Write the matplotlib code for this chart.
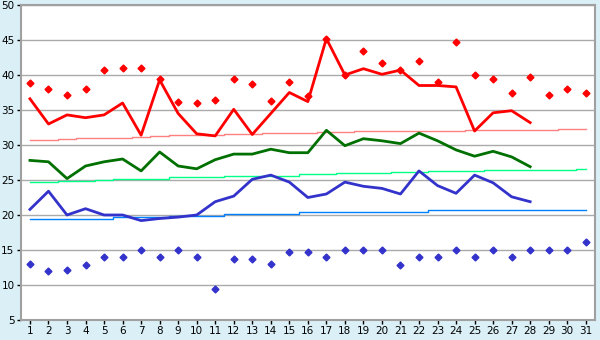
import matplotlib
matplotlib.use('Agg')
import matplotlib.pyplot as plt

days = list(range(1, 32))

# daily highs / lows (markers)
t_max = [38.8, 38.0, 37.2, 38.0, 40.7, 41.0, 41.0, 39.4, 36.1, 36.0,
         36.4, 39.5, 38.7, 36.3, 39.0, 37.0, 45.2, 40.0, 43.5, 41.7,
         40.7, 42.0, 39.0, 44.7, 40.0, 39.5, 37.5, 39.7, 37.2, 38.0, 37.5]
t_min = [13.0, 12.0, 12.2, 12.8, 14.0, 14.0, 15.0, 14.0, 15.0, 14.0,
         9.4, 13.7, 13.7, 13.0, 14.7, 14.7, 14.0, 15.0, 15.0, 15.0,
         12.8, 14.0, 14.0, 15.0, 14.0, 15.0, 14.0, 15.0, 15.0, 15.0, 16.1]

# lines (days 1..28)
line_days = list(range(1, 29))
red_line = [36.6, 33.0, 34.3, 33.9, 34.3, 36.0, 31.4, 39.3, 34.5, 31.6,
            31.3, 35.1, 31.5, 34.5, 37.5, 36.2, 45.2, 40.0, 40.9, 40.1,
            40.7, 38.5, 38.5, 38.3, 32.0, 34.6, 34.9, 33.2]
green_line = [27.8, 27.6, 25.2, 27.0, 27.6, 28.0, 26.3, 29.0, 27.0, 26.6,
              27.9, 28.7, 28.7, 29.4, 28.9, 28.9, 32.1, 29.9, 30.9, 30.6,
              30.2, 31.7, 30.6, 29.3, 28.4, 29.1, 28.3, 26.9]
blue_line = [20.8, 23.4, 20.0, 20.9, 20.0, 20.0, 19.2, 19.5, 19.7, 20.0,
             21.9, 22.7, 25.1, 25.7, 24.7, 22.5, 23.0, 24.7, 24.1, 23.8,
             23.0, 26.3, 24.2, 23.1, 25.7, 24.6, 22.6, 21.9]

# normals (days 1..31)
norm_max = [30.7, 30.7, 30.9, 31.0, 31.0, 31.0, 31.2, 31.3, 31.4, 31.4,
            31.4, 31.6, 31.6, 31.7, 31.7, 31.7, 31.9, 31.9, 32.0, 32.0,
            32.0, 32.0, 32.0, 32.0, 32.1, 32.1, 32.1, 32.1, 32.1, 32.3, 32.3]
norm_mean = [24.7, 24.7, 24.8, 24.8, 25.0, 25.1, 25.2, 25.2, 25.4, 25.4,
             25.4, 25.6, 25.6, 25.6, 25.6, 25.8, 25.8, 26.0, 26.0, 26.0,
             26.1, 26.2, 26.3, 26.3, 26.3, 26.4, 26.4, 26.4, 26.4, 26.4, 26.6]
norm_min = [19.4, 19.4, 19.5, 19.5, 19.5, 19.7, 19.7, 19.7, 19.8, 19.9,
            19.9, 20.1, 20.1, 20.2, 20.2, 20.4, 20.4, 20.4, 20.4, 20.5,
            20.5, 20.5, 20.7, 20.7, 20.7, 20.7, 20.7, 20.7, 20.7, 20.7, 20.7]

y_ticks = [5, 10, 15, 20, 25, 30, 35, 40, 45, 50]

fig = plt.figure(figsize=(6, 3.4), dpi=100, facecolor='#daeff6')
ax = fig.add_axes([20.7 / 600, 1 - 320 / 340, (595 - 20.7) / 600, 315 / 340])
ax.set_facecolor('white')

# normals as stepped lines
ax.plot(days, norm_max, color='#ff8080', lw=1, drawstyle='steps-mid', zorder=2)
ax.plot(days, norm_mean, color='#00ff88', lw=1, drawstyle='steps-mid', zorder=2)
ax.plot(days, norm_min, color='#0080ff', lw=1, drawstyle='steps-mid', zorder=2)

ax.plot(line_days, red_line, color='#ff0000', lw=2, zorder=3)
ax.plot(line_days, green_line, color='#007000', lw=2, zorder=3)
ax.plot(line_days, blue_line, color='#3333cc', lw=2, zorder=3)

ax.plot(days, t_max, ls='none', marker='D', ms=3.5, color='#ff0000', zorder=4)
ax.plot(days, t_min, ls='none', marker='D', ms=3.5, color='#3333cc', zorder=4)

ax.set_xlim(0.5, 31.5)
ax.set_ylim(5, 50)
ax.set_xticks(days)
ax.set_yticks(y_ticks)
ax.yaxis.grid(True, color='#aaaaaa', lw=1)
ax.set_axisbelow(True)

for s in ax.spines.values():
    s.set_color('#a0a0a0')
    s.set_linewidth(1.5)

ax.tick_params(axis='both', colors='black', labelsize=7.5, length=3, width=1,
               pad=1.5)

fig.savefig('out.png', dpi=100, facecolor=fig.get_facecolor())
